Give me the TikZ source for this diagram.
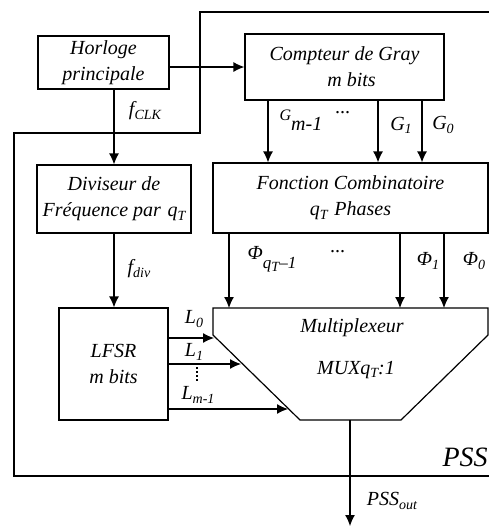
\documentclass[tikz,border=0pt]{standalone}
\usepackage{fontspec}
\setmainfont{Liberation Serif}
\usetikzlibrary{arrows.meta}
\newcommand\boxfont{\fontsize{20}{26}\selectfont\itshape}
\newcommand\lblfont{\fontsize{20}{22}\selectfont\itshape}
\newcommand\sbx[1]{\raisebox{-0.35ex}{\fontsize{14}{14}\selectfont #1}}
\begin{document}
\begin{tikzpicture}[x=1pt,y=-1pt,line width=1.2pt,
  box/.style={draw, rectangle, align=center, inner sep=0pt, font=\boxfont},
  arr/.style={-{Latex[length=11pt,width=10pt]}},
  lbl/.style={inner sep=0pt, font=\lblfont}]
\useasboundingbox (0,0) rectangle (489,528);
% outer frame (clipped at right)
\coordinate (fa) at (495,12);
\coordinate (fb) at (200,12);
\coordinate (fc) at (200,133);
\coordinate (fd) at (14,133);
\coordinate (fe) at (14,476);
\coordinate (ff) at (495,476);
\draw (fa) -- (fb) -- (fc) -- (fd) -- (fe) -- (ff);
% boxes
\node[box, minimum width=131pt, minimum height=53pt] (hor) at (103.5,62.5) {Horloge\\principale};
\node[box, minimum width=199pt, minimum height=66pt] (cg) at (344.5,67) {Compteur de Gray\\\hspace*{14pt}m bits};
\node[box, minimum width=154pt, minimum height=68pt] (div) at (114,199) {Diviseur de\\Fréquence par\,\,q\sbx{T}};
\node[box, minimum width=275pt, minimum height=70pt] (fcomb) at (350.5,198) {Fonction Combinatoire\\q\sbx{T}\,\,Phases};
\node[box, minimum width=109pt, minimum height=112pt] (lfsr) at (113.5,364) {LFSR\\m bits};
% multiplexer
\coordinate (mtl) at (213,308);
\coordinate (mtr) at (488,308);
\coordinate (mrr) at (488,335);
\coordinate (mbr) at (401,420);
\coordinate (mbl) at (300,420);
\coordinate (mll) at (213,335);
\draw (mtl) -- (mtr) -- (mrr) -- (mbr) -- (mbl) -- (mll) -- cycle;
\node[inner sep=0pt, align=center, font=\boxfont] (mux) at (352,328) {Multiplexeur};
\node[inner sep=0pt, align=center, font=\boxfont] (muxb) at (356,370) {MUXq\sbx{T}:1};
% clock connections
\draw[arr] (cg.west -| hor.east) -- (cg.west);
\draw[arr] (div.north |- hor.south) -- (div.north);
\draw[arr] (div.south) -- (div.south |- lfsr.north);
% Gray outputs
\coordinate (xg2) at (268,0);
\coordinate (xg1) at (378,0);
\coordinate (xg0) at (422,0);
\draw[arr] (xg2 |- cg.south) -- (xg2 |- fcomb.north);
\draw[arr] (xg1 |- cg.south) -- (xg1 |- fcomb.north);
\draw[arr] (xg0 |- cg.south) -- (xg0 |- fcomb.north);
% phase outputs
\coordinate (xp2) at (229,0);
\coordinate (xp1) at (400,0);
\coordinate (xp0) at (444,0);
\draw[arr] (xp2 |- fcomb.south) -- (xp2 |- mtl);
\draw[arr] (xp1 |- fcomb.south) -- (xp1 |- mtl);
\draw[arr] (xp0 |- fcomb.south) -- (xp0 |- mtl);
% LFSR outputs
\coordinate (l0) at (214,338);
\coordinate (l1) at (241,364);
\coordinate (lm) at (288,409);
\draw[arr] (l0 -| lfsr.east) -- (l0);
\draw[arr] (l1 -| lfsr.east) -- (l1);
\draw[arr] (lm -| lfsr.east) -- (lm);
% vertical dots between L1 and Lm-1
\coordinate (vd1) at (197,367);
\coordinate (vd2) at (197,381);
\draw[line width=1.8pt, dash pattern=on 2pt off 2pt] (vd1) -- (vd2);
% output
\coordinate (mout) at (350,420);
\coordinate (pend) at (350,526);
\draw[arr] (mout) -- (pend);
% labels
\node[lbl] (tclk) at (145,111) {f\sbx{CLK}};
\node[lbl] (tdiv) at (139,269) {f\sbx{div}};
\node[lbl] (tg2) at (301,120) {{\fontsize{16}{16}\selectfont G}\raisebox{-1.1ex}{m-1}};
\node[lbl] (tgd) at (343,113) {...};
\node[lbl] (tg1) at (401,125) {G\sbx{1}};
\node[lbl] (tg0) at (443,125) {G\sbx{0}};
\node[lbl] (tp2) at (272,259) {Φ\raisebox{-1ex}{\fontsize{17}{17}\selectfont q\sbx{T}–1}};
\node[lbl] (tpd) at (338,252) {...};
\node[lbl] (tp1) at (428,261) {Φ\sbx{1}};
\node[lbl] (tp0) at (474,261) {Φ\sbx{0}};
\node[lbl] (tl0) at (194,319) {L\sbx{0}};
\node[lbl] (tl1) at (194,352) {L\sbx{1}};
\node[lbl] (tlm) at (198,395) {L\sbx{m-1}};
\node[lbl] (tout) at (392,501) {PSS\sbx{out}};
\node[inner sep=0pt, anchor=west, font=\fontsize{28}{28}\selectfont\itshape] (tpss) at (442,457) {PSS};
\end{tikzpicture}
\end{document}
